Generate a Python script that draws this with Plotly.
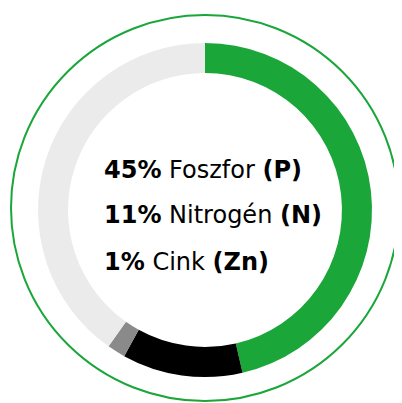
import plotly.graph_objects as go

labels = ["Foszfor (P)", "Nitrogén (N)", "Cink (Zn)", "Egyéb"]
values = [45, 11.3, 1.7, 39]
colors = ["#1aa639", "#000000", "#8a8a8a", "#ebebeb"]

lines = [
    ("45%", "Foszfor", "(P)"),
    ("11%", "Nitrogén", "(N)"),
    ("1%", "Cink", "(Zn)"),
]

W, H = 402, 403
OFF = 8  # page body margin
fig = go.Figure()
fig.add_trace(go.Pie(
    labels=labels, values=values, sort=False, direction="clockwise", rotation=0,
    hole=0.82, marker=dict(colors=colors, line=dict(width=0)),
    textinfo="none", hoverinfo="none", showlegend=False,
    domain=dict(x=[(38 - OFF) / W, (372 - OFF) / W],
                y=[1 - (377 - OFF) / H, 1 - (43 - OFF) / H]),
))

fig.add_shape(type="circle", xref="paper", yref="paper",
              x0=(11 - OFF) / W, x1=(399 - OFF) / W,
              y0=1 - (401 - OFF) / H, y1=1 - (15 - OFF) / H,
              line=dict(color="#1aa639", width=2))

ys = [170, 215, 262]
for (pct, name, sym), yy in zip(lines, ys):
    fig.add_annotation(
        x=(102 - OFF) / W, y=1 - (yy - OFF) / H, xref="paper", yref="paper",
        xanchor="left", yanchor="middle", showarrow=False,
        text=f"<b>{pct}</b> {name} <b>{sym}</b>",
        font=dict(family="DejaVu Sans", size=24, color="#000000"),
    )

fig.update_layout(width=W, height=H, margin=dict(l=0, r=0, t=0, b=0),
                  paper_bgcolor="white", plot_bgcolor="white")
fig.write_html("out.html")
